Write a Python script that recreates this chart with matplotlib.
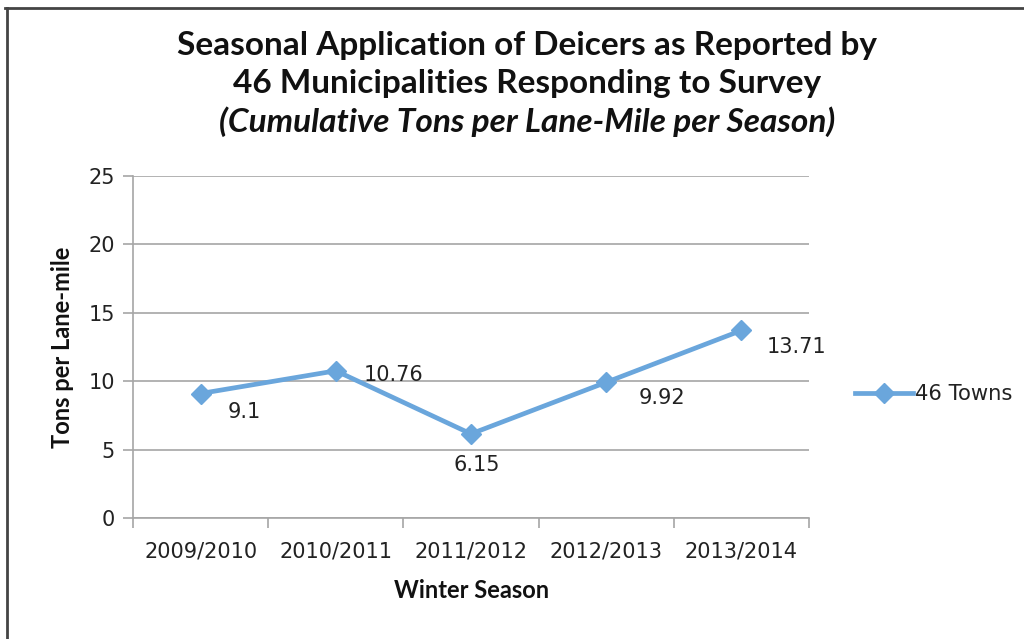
import matplotlib
matplotlib.use("Agg")
import matplotlib.pyplot as plt
from matplotlib.lines import Line2D

seasons = ["2009/2010", "2010/2011", "2011/2012", "2012/2013", "2013/2014"]
tons = [9.1, 10.76, 6.15, 9.92, 13.71]
value_labels = ["9.1", "10.76", "6.15", "9.92", "13.71"]
series_name = "46 Towns"
title_lines = ["Seasonal Application of Deicers as Reported by",
               "46 Municipalities Responding to Survey",
               "(Cumulative Tons per Lane-Mile per Season)"]
y_ticks = [0, 5, 10, 15, 20, 25]

W, H = 1024, 639
fig = plt.figure(figsize=(W / 100, H / 100), dpi=100)
fig.patch.set_facecolor("white")

ax = fig.add_axes([133 / W, 1 - 518 / H, (809 - 133) / W, (518 - 176) / H])
x = list(range(len(seasons)))
line_color = "#6aa6dc"
ax.plot(x, tons, color=line_color, lw=3.4, marker="D", markersize=10.5,
        markeredgecolor=line_color, markerfacecolor=line_color, label=series_name,
        solid_joinstyle="round", zorder=3)

ax.set_xlim(-0.5, len(seasons) - 0.5)
ax.set_ylim(0, 25)
ax.set_yticks(y_ticks)
ax.set_yticklabels([str(v) for v in y_ticks])
ax.set_xticks(x)
ax.set_xticklabels(seasons)
ax.set_xticks([i - 0.5 for i in range(len(seasons) + 1)], minor=True)

grid_c = "#a6a6a6"
ax.grid(axis="y", color=grid_c, lw=1.2)
ax.set_axisbelow(True)
for s in ["top", "right"]:
    ax.spines[s].set_visible(False)
for s in ["left", "bottom"]:
    ax.spines[s].set_color(grid_c)
    ax.spines[s].set_linewidth(1.2)
ax.tick_params(axis="y", length=7, width=1.2, color=grid_c, labelsize=15, pad=6,
               labelcolor="#222222")
ax.tick_params(axis="x", which="major", length=0, labelsize=15, pad=17,
               labelcolor="#222222")
ax.tick_params(axis="x", which="minor", length=7, width=1.2, color=grid_c)

offsets = [(27, -18), (28, -4), (-18, -31), (32, -16), (25, -17)]
for xi, yi, lab, off in zip(x, tons, value_labels, offsets):
    ax.annotate(lab, (xi, yi), xytext=off, textcoords="offset pixels",
                ha="left", va="center", fontsize=15, color="#222222")

fig.legend(loc="center left", bbox_to_anchor=(836 / W, 1 - 394 / H), frameon=False,
           fontsize=15.2, handlelength=2.75, handletextpad=0.1, labelcolor="#222222")

tfont = "Lato"
ys = [45, 84, 122]
for i, (t, yy) in enumerate(zip(title_lines, ys)):
    fig.text(527 / W, 1 - yy / H, t, ha="center", va="center", fontsize=24,
             fontweight="bold", fontstyle="italic" if i == 2 else "normal",
             family=tfont, color="#111111")

fig.text(62 / W, 1 - 347 / H, "Tons per Lane-mile", rotation=90, ha="center",
         va="center", fontsize=17, fontweight="bold", family=tfont, color="#111111")
fig.text(472 / W, 1 - 591 / H, "Winter Season", ha="center", va="center",
         fontsize=17, fontweight="bold", family=tfont, color="#111111")

# frame
fig.add_artist(Line2D([5 / W, 1], [1 - 8 / H, 1 - 8 / H], color="#444444", lw=2,
                      transform=fig.transFigure))
fig.add_artist(Line2D([7 / W, 7 / W], [0, 1 - 8 / H], color="#444444", lw=2,
                      transform=fig.transFigure))

fig.savefig("out.png", dpi=100)
